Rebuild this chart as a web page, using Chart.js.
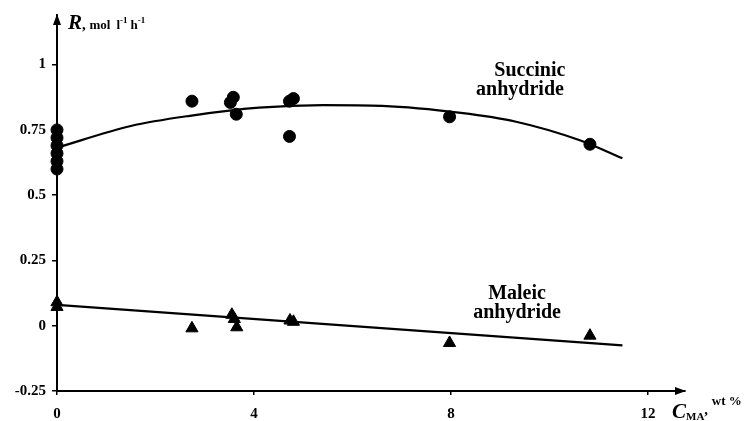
<!DOCTYPE html>
<html>
<head>
<meta charset="utf-8">
<script src="https://cdn.jsdelivr.net/npm/chart.js@4.4.1/dist/chart.umd.min.js"></script>
<style>
  html, body { margin: 0; padding: 0; background: #fff; }
  #wrap { position: relative; width: 754px; height: 421px; }
</style>
</head>
<body>
<div id="wrap"><canvas id="chart"></canvas></div>
<script>
// axis ticks
const xTicks = [0, 4, 8, 12];
const yTicks = [-0.25, 0, 0.25, 0.5, 0.75, 1];
const yTickLabels = ["-0.25", "0", "0.25", "0.5", "0.75", "1"];

// succinic anhydride (circles)
const succinicX = [0, 0, 0, 0, 0, 0, 2.74, 3.52, 3.58, 3.64, 4.72, 4.8, 4.72, 7.97, 10.82];
const succinicY = [0.75, 0.72, 0.69, 0.66, 0.63, 0.6, 0.86, 0.855, 0.875, 0.81, 0.86, 0.87, 0.725, 0.8, 0.695];

// maleic anhydride (triangles)
const maleicX = [0, 0, 2.74, 3.55, 3.6, 3.65, 4.73, 4.8, 7.97, 10.82];
const maleicY = [0.09, 0.072, -0.01, 0.042, 0.026, -0.006, 0.02, 0.015, -0.066, -0.038];

// fitted curves
const succinicFitX = [0, 1.5, 2.7, 4.1, 5.4, 6.6, 8.2, 9.3, 10.6, 11.48];
const succinicFitY = [0.682, 0.765, 0.804, 0.835, 0.845, 0.842, 0.815, 0.782, 0.711, 0.641];
const maleicFitX = [0, 11.48];
const maleicFitY = [0.08, -0.075];

const toPoints = (xs, ys) => xs.map((x, i) => ({ x, y: ys[i] }));

const SERIF = "'Liberation Serif', 'DejaVu Serif', serif";

// draws a run of text pieces one after another
function drawRun(ctx, x, y, parts) {
  let cx = x;
  parts.forEach((p) => {
    ctx.font = p.font;
    ctx.fillText(p.t, cx, y + (p.dy || 0));
    cx += ctx.measureText(p.t).width + (p.gap || 0);
  });
}

const decorations = {
  id: "decorations",
  afterDraw(chart) {
    const { ctx, chartArea, scales } = chart;
    const { left, right, top, bottom } = chartArea;
    ctx.save();
    ctx.fillStyle = "#000";

    // arrow heads
    ctx.beginPath();
    ctx.moveTo(left, top - 1);
    ctx.lineTo(left - 4, top + 10);
    ctx.lineTo(left + 4, top + 10);
    ctx.closePath();
    ctx.fill();
    ctx.beginPath();
    ctx.moveTo(right + 1, bottom);
    ctx.lineTo(right - 10, bottom - 4);
    ctx.lineTo(right - 10, bottom + 4);
    ctx.closePath();
    ctx.fill();

    ctx.textBaseline = "alphabetic";
    ctx.textAlign = "left";
    drawRun(ctx, left + 11, 29, [
      { t: "R", font: `italic bold 21px ${SERIF}` },
      { t: ", ", font: `bold 15px ${SERIF}` },
      { t: "mol", font: `bold 13px ${SERIF}`, gap: 6 },
      { t: "l", font: `bold 13px ${SERIF}` },
      { t: "-1", font: `bold 9px ${SERIF}`, dy: -6, gap: 3 },
      { t: "h", font: `bold 13px ${SERIF}` },
      { t: "-1", font: `bold 9px ${SERIF}`, dy: -6 },
    ]);
    drawRun(ctx, right - 13, 418, [
      { t: "C", font: `italic bold 21px ${SERIF}` },
      { t: "MA", font: `bold 11px ${SERIF}`, dy: 2 },
      { t: ", ", font: `bold 15px ${SERIF}`, dy: -4 },
      { t: "wt %", font: `bold 13px ${SERIF}`, dy: -13 },
    ]);

    // curve labels
    ctx.textAlign = "center";
    ctx.textBaseline = "middle";
    ctx.font = `bold 20px ${SERIF}`;
    const xs = scales.x;
    const ys = scales.y;
    ctx.fillText("Succinic", xs.getPixelForValue(9.6), ys.getPixelForValue(0.975));
    ctx.fillText("anhydride", xs.getPixelForValue(9.4), ys.getPixelForValue(0.902));
    ctx.fillText("Maleic", xs.getPixelForValue(9.34), ys.getPixelForValue(0.122));
    ctx.fillText("anhydride", xs.getPixelForValue(9.34), ys.getPixelForValue(0.05));
    ctx.restore();
  },
};

new Chart(document.getElementById("chart"), {
  type: "scatter",
  data: {
    datasets: [
      {
        label: "Succinic fit",
        type: "line",
        data: toPoints(succinicFitX, succinicFitY),
        borderColor: "#000",
        borderWidth: 2.2,
        pointRadius: 0,
        cubicInterpolationMode: "monotone",
        fill: false,
      },
      {
        label: "Maleic fit",
        type: "line",
        data: toPoints(maleicFitX, maleicFitY),
        borderColor: "#000",
        borderWidth: 2.2,
        pointRadius: 0,
        fill: false,
      },
      {
        label: "Succinic anhydride",
        data: toPoints(succinicX, succinicY),
        pointStyle: "circle",
        pointRadius: 6,
        backgroundColor: "#000",
        borderColor: "#000",
        borderWidth: 1,
        clip: false,
      },
      {
        label: "Maleic anhydride",
        data: toPoints(maleicX, maleicY),
        pointStyle: "triangle",
        pointRadius: 7,
        backgroundColor: "#000",
        borderColor: "#000",
        borderWidth: 1,
        clip: false,
      },
    ],
  },
  options: {
    responsive: true,
    maintainAspectRatio: false,
    animation: false,
    layout: { padding: { top: 13, right: 69, left: 0, bottom: 0 } },
    scales: {
      x: {
        type: "linear",
        min: 0,
        max: 12.75,
        afterBuildTicks: (scale) => {
          scale.ticks = xTicks.map((value) => ({ value }));
        },
        afterFit: (scale) => {
          scale.height = 30;
        },
        border: { color: "#000", width: 2 },
        grid: {
          drawOnChartArea: false,
          color: "#000",
          lineWidth: 1.5,
          tickLength: 4,
        },
        ticks: {
          color: "#000",
          padding: 10,
          maxRotation: 0,
          font: { family: SERIF, size: 15, weight: "bold" },
          callback: (value) => String(value),
        },
      },
      y: {
        type: "linear",
        min: -0.25,
        max: 1.19,
        afterBuildTicks: (scale) => {
          scale.ticks = yTicks.map((value) => ({ value }));
        },
        afterFit: (scale) => {
          scale.width = 57;
        },
        border: { color: "#000", width: 2 },
        grid: {
          drawOnChartArea: false,
          color: "#000",
          lineWidth: 1.5,
          tickLength: 5,
        },
        ticks: {
          color: "#000",
          padding: 6,
          font: { family: SERIF, size: 15, weight: "bold" },
          callback: (value) => {
            const i = yTicks.indexOf(value);
            return i >= 0 ? yTickLabels[i] : "";
          },
        },
      },
    },
    plugins: {
      legend: { display: false },
      tooltip: { enabled: false },
    },
  },
  plugins: [decorations],
});
</script>
</body>
</html>
